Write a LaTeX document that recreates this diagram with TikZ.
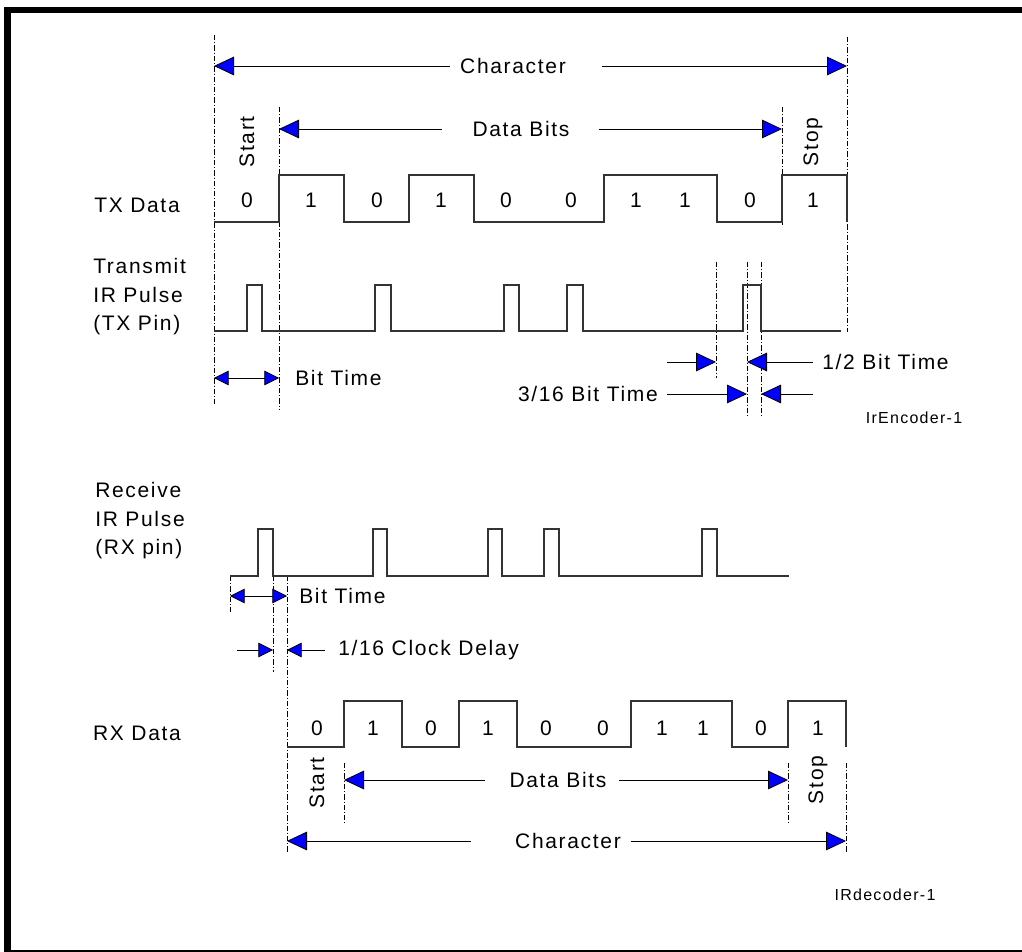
\documentclass[tikz,border=0pt]{standalone}
\usepackage{fontspec}
\setmainfont{Liberation Sans}[LetterSpace=8]
\usetikzlibrary{arrows.meta}

\tikzset{
  sig/.style={line width=0.8pt, black!80},
  guide/.style={line width=0.6pt, dash pattern=on 4pt off 1.5pt on 0.8pt off 1.5pt},
  dim/.style={line width=0.6pt, -{Triangle[length=15pt,width=14pt,fill=blue]}},
  dimone/.style={line width=0.6pt, -{Triangle[length=11pt,width=11pt,fill=blue]}},
  dimtwo/.style={line width=0.6pt, {Triangle[length=11pt,width=11pt,fill=blue]}-{Triangle[length=11pt,width=11pt,fill=blue]}},
  lbl/.style={font=\fontsize{15.75}{19.9}\selectfont, inner sep=0pt},
  pinlbl/.style={font=\fontsize{15.75}{21.4}\selectfont, inner sep=0pt, align=left, anchor=west},
  tag/.style={font=\fontsize{12}{14}\selectfont, inner sep=0pt},
}

\begin{document}
\begin{tikzpicture}[x=0.75pt,y=-0.75pt]
	\useasboundingbox (0,0) rectangle (1022,952);

	% frame
	\fill (4,7) rectangle (1022,13);
	\fill (4,7) rectangle (11,951);
	\draw[line width=1.1pt] (4,951) -- (1022,951);

	% guide lines
	\foreach \n/\x/\ya/\yb in {ga/214/35/405, gb/279/107/410, gc/782/107/225, gd/847/37/332,
			ge/716/262/378, gf/747/262/416, gg/761/262/416,
			gh/230/576/612, gi/273/576/672, gj/287/576/852,
			gk/344/763/825, gl/788/763/825, gm/846/763/852} {
			\draw[guide] (\x,\ya) coordinate (\n) -- (\x,\yb);
		}

	% TX data
	\draw[sig] (214,222) \foreach \a/\b in {279/344, 409/474, 604/717, 782/847} {
			-- (\a,222) -- (\a,175) -- (\b,175) -- (\b,222)};
	\foreach \x/\b in {247/0, 311/1, 377/0, 441/1, 506/0, 571/0, 636/1, 685/1, 750/0, 813/1} {
			\node[lbl] (tx\x) at (\x,200) {\b};
		}

	% TX IR pulse
	\draw[sig] (214,331) \foreach \a/\b in {247/262, 375/391, 504/519, 567/583, 743/761} {
			-- (\a,331) -- (\a,285) -- (\b,285) -- (\b,331)} -- (841,331);

	% RX IR pulse
	\draw[sig] (230,576) \foreach \a/\b in {258/273, 373/387, 488/502, 544/559, 702/717} {
			-- (\a,576) -- (\a,529) -- (\b,529) -- (\b,576)} -- (789,576);

	% RX data
	\draw[sig] (287,747) \foreach \a/\b in {344/402, 459/517, 631/732, 788/846} {
			-- (\a,747) -- (\a,701) -- (\b,701) -- (\b,747)};
	\foreach \x/\b in {317/0, 373/1, 431/0, 488/1, 546/0, 603/0, 662/1, 703/1, 761/0, 818/1} {
			\node[lbl] (rx\x) at (\x,728) {\b};
		}

	% signal names
	\node[lbl] (txdata) at (137,205) {TX Data};
	\node[pinlbl] (txpin) at (93,297) {Transmit\\IR Pulse\\(TX Pin)};
	\node[pinlbl] (rxpin) at (95,521) {Receive\\IR Pulse\\(RX pin)};
	\node[lbl] (rxdata) at (137,733) {RX Data};

	% frame labels, top
	\node[lbl] (chtx) at (513,66) {Character};
	\draw[dim] ([xshift=-7.5pt]chtx.west) -- (chtx -| ga);
	\draw[dim] ([xshift=27pt]chtx.east) -- (chtx -| gd);
	\node[lbl] (dbtx) at (521,129) {Data Bits};
	\draw[dim] ([xshift=-23pt]dbtx.west) -- (dbtx -| gb);
	\draw[dim] ([xshift=22pt]dbtx.east) -- (dbtx -| gc);
	\node[lbl, rotate=90] (sttx) at (247,142) {Start};
	\node[lbl, rotate=90] (sptx) at (813,142) {Stop};

	% timing, TX
	\node[lbl, anchor=west] (bttx) at (295,378) {Bit Time};
	\draw[dimtwo] (bttx -| ga) -- (bttx -| gb);
	\node[lbl, anchor=west] (half) at (822,362) {1/2 Bit Time};
	\coordinate (hl) at (667,362);
	\draw[dim] (hl) -- (hl -| ge);
	\draw[dim] ([xshift=-7pt]half.west) -- (half -| gf);
	\node[lbl, anchor=east] (tsix) at (658,394) {3/16 Bit Time};
	\coordinate (tr) at (813,394);
	\draw[dim] ([xshift=7pt]tsix.east) -- (tsix -| gf);
	\draw[dim] (tr) -- (tr -| gg);
	\node[tag] (enc) at (914,418) {IrEncoder-1};

	% timing, RX
	\node[lbl, anchor=west] (btrx) at (299,596) {Bit Time};
	\draw[dimtwo] (btrx -| gh) -- (btrx -| gj);
	\node[lbl, anchor=west] (clk) at (338,650) {1/16 Clock Delay};
	\coordinate (cl) at (237,650);
	\draw[dimone] (cl) -- (cl -| gi);
	\draw[dimone] ([xshift=-10pt]clk.west) -- (clk -| gj);

	% frame labels, bottom
	\node[lbl] (dbrx) at (558,780) {Data Bits};
	\draw[dim] ([xshift=-18pt]dbrx.west) -- (dbrx -| gk);
	\draw[dim] ([xshift=9pt]dbrx.east) -- (dbrx -| gl);
	\node[lbl] (chrx) at (568,841) {Character};
	\draw[dim] ([xshift=-33pt]chrx.west) -- (chrx -| gj);
	\draw[dim] ([xshift=7.5pt]chrx.east) -- (chrx -| gm);
	\node[lbl, rotate=90] (strx) at (317,783) {Start};
	\node[lbl, rotate=90] (sprx) at (818,780) {Stop};
	\node[tag] (dec) at (885,895) {IRdecoder-1};
\end{tikzpicture}
\end{document}
